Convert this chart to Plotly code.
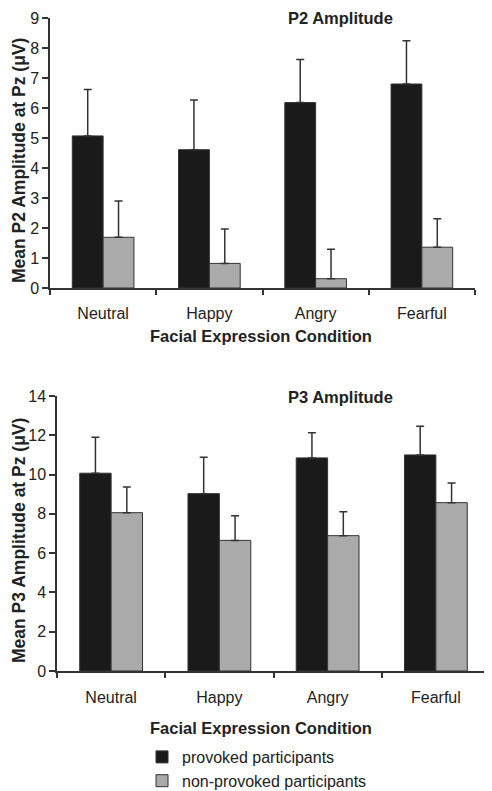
import plotly.graph_objects as go

categories = ["Neutral", "Happy", "Angry", "Fearful"]

p2_provoked = [5.07, 4.61, 6.18, 6.80]
p2_provoked_err = [1.55, 1.66, 1.44, 1.44]
p2_nonprovoked = [1.69, 0.82, 0.31, 1.36]
p2_nonprovoked_err = [1.21, 1.15, 0.98, 0.95]

p3_provoked = [10.07, 9.03, 10.85, 11.00]
p3_provoked_err = [1.83, 1.85, 1.28, 1.46]
p3_nonprovoked = [8.06, 6.65, 6.89, 8.57]
p3_nonprovoked_err = [1.31, 1.26, 1.22, 1.00]

series_names = ["provoked participants", "non-provoked participants"]

# the page places the figure 8px in from the top-left corner
OFF = 8
W, H = 492, 791
FONT = "Liberation Sans, Arial, Helvetica, sans-serif"
AXC = "#333333"
BLACK = "#1a1a1a"
GRAY = "#aaaaaa"


def px(x):
    return (x - OFF) / W


def py(y):
    return 1 - (y - OFF) / H


fig = go.Figure()

panels = [
    ("x", "y", p2_provoked, p2_provoked_err, p2_nonprovoked, p2_nonprovoked_err, True),
    ("x2", "y2", p3_provoked, p3_provoked_err, p3_nonprovoked, p3_nonprovoked_err, False),
]
for xa, ya, pv, pe, nv, ne, show in panels:
    for name, vals, errs, col, grp in [
        (series_names[0], pv, pe, BLACK, "a"),
        (series_names[1], nv, ne, GRAY, "b"),
    ]:
        fig.add_trace(go.Bar(
            x=categories, y=vals, name=name, xaxis=xa, yaxis=ya,
            marker=dict(color=col, line=dict(color=AXC, width=1)),
            error_y=dict(type="data", symmetric=False, array=errs,
                         arrayminus=[0] * len(errs), color=AXC,
                         thickness=1.5, width=4),
            showlegend=show, legendgroup=grp,
        ))

axis_common = dict(
    showline=True, linecolor=AXC, linewidth=1.5, ticks="outside",
    tickcolor=AXC, tickwidth=1.5, showgrid=False, zeroline=False,
    automargin=False, ticklabeloverflow="allow",
    tickfont=dict(family=FONT, size=16, color="#222"),
)

fig.update_layout(
    template="none",
    width=W, height=H,
    margin=dict(l=0, r=0, t=0, b=0, pad=0),
    paper_bgcolor="white", plot_bgcolor="white",
    barmode="group", bargap=0.42, bargroupgap=0,
    font=dict(family=FONT, size=16, color="#222"),
    xaxis=dict(domain=[px(50), px(475)], anchor="y", type="category",
               tickson="boundaries", ticklen=5, ticklabelstandoff=10,
               **axis_common),
    yaxis=dict(domain=[py(288), py(18)], anchor="x", range=[0, 9], dtick=1,
               ticklen=6, ticklabelstandoff=0, **axis_common),
    xaxis2=dict(domain=[px(57), px(490)], anchor="y2", type="category",
                tickson="boundaries", ticklen=5, ticklabelstandoff=11,
                **axis_common),
    yaxis2=dict(domain=[py(671), py(396)], anchor="x2", range=[0, 14], dtick=2,
                ticklen=6, ticklabelstandoff=0, **axis_common),
    legend=dict(x=px(142), y=py(798), xanchor="left", yanchor="bottom",
                font=dict(family=FONT, size=16, color="#222"),
                itemwidth=30, tracegroupgap=0, bgcolor="rgba(0,0,0,0)",
                borderwidth=0),
)

bold = dict(family=FONT, size=16.5, color="#222")
ybold = dict(family=FONT, size=17.5, color="#222")
annos = [
    # (text, x, y, angle, font, xanchor, yanchor)
    ("<b>P2 Amplitude</b>", px(340), 1.0, 0, bold, "center", "top"),
    ("<b>P3 Amplitude</b>", px(340), py(397), 0, bold, "center", "middle"),
    ("<b>Facial Expression Condition</b>", px(260.5), py(336), 0, bold, "center", "middle"),
    ("<b>Facial Expression Condition</b>", px(260.5), py(727.7), 0, bold, "center", "middle"),
    ("<b>Mean P2 Amplitude at Pz (μV)</b>", 0.0, py(161), -90, ybold, "left", "middle"),
    ("<b>Mean P3 Amplitude at Pz (μV)</b>", 0.0, py(541), -90, ybold, "left", "middle"),
]
for text, x, y, ang, f, xa, ya in annos:
    fig.add_annotation(text=text, x=x, y=y, xref="paper", yref="paper",
                       xanchor=xa, yanchor=ya, showarrow=False,
                       textangle=ang, font=f, borderpad=0)

fig.write_html("out.html")
